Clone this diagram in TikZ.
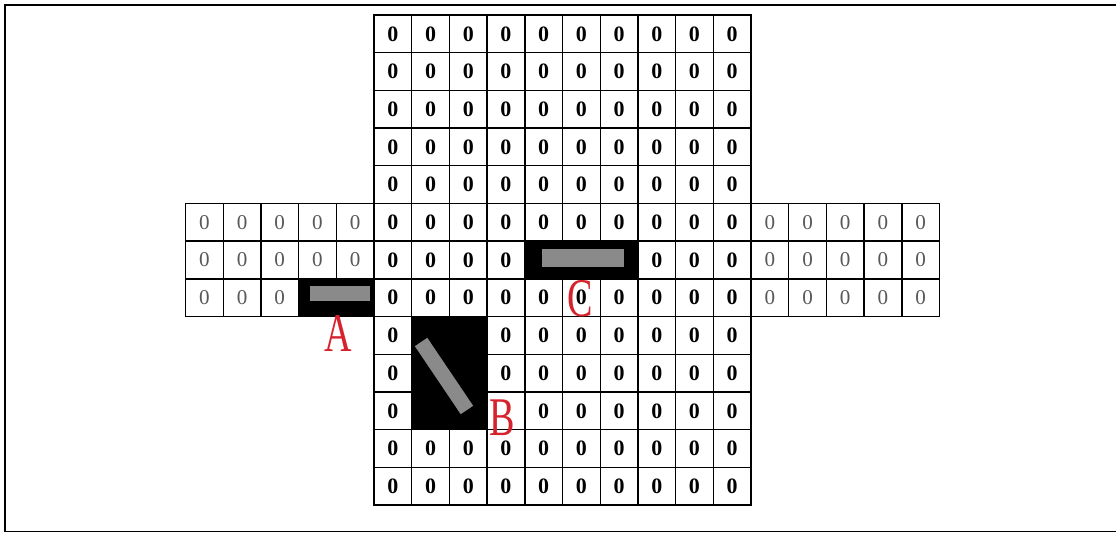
\documentclass[tikz,border=0pt]{standalone}
\usepackage{fontspec}
\setmainfont{Liberation Serif}
\definecolor{labelred}{RGB}{214,34,44}
\definecolor{bargray}{RGB}{138,138,138}
\newcommand{\narrowtxt}[1]{\scalebox{0.7}[1]{#1}}

\begin{document}
\begin{tikzpicture}[x=1cm,y=1cm]
\tikzset{
  cell/.style={rectangle,draw=black,line width=0.8pt,minimum size=7.54mm,inner sep=0pt,font=\fontsize{12.5}{12.5}\selectfont\bfseries},
  wingcell/.style={cell,font=\fontsize{12}{12}\selectfont,text=black!65},
  block/.style={fill=black},
  bar/.style={rectangle,fill=bargray,inner sep=0pt},
  marker/.style={text=labelred,font=\fontsize{31}{31}\selectfont,inner sep=0pt}
}
\useasboundingbox (0,0) rectangle (22.32,10.68);
\draw[line width=1.1pt] (0.10,0.05) rectangle (22.45,10.58);
% middle column of cells
\foreach \r in {0,...,12}
  \foreach \c in {0,...,9}
    \node[cell] (n_\r_\c) at ({7.48+(\c+0.5)*0.754},{10.38-(\r+0.5)*0.754}) {\ifnum\r\c=103 \else 0\fi};
% side arms
\foreach \r in {5,6,7}
  \foreach \c in {0,...,4} {
    \node[wingcell] (wl_\r_\c) at ({7.48+(\c-4.5)*0.754},{10.38-(\r+0.5)*0.754}) {0};
    \node[wingcell] (wr_\r_\c) at ({7.48+(\c+10.5)*0.754},{10.38-(\r+0.5)*0.754}) {0};
  }
% blocked cells
\fill[block] (wl_7_3.north west) rectangle (wl_7_4.south east);
\fill[block] (n_6_4.north west) rectangle (n_6_6.south east);
\fill[block] (n_8_1.north west) rectangle (n_10_2.south east);
\node[bar,minimum width=1.20cm,minimum height=0.30cm] (barA) at (6.80,4.81) {};
\node[bar,minimum width=1.64cm,minimum height=0.36cm] (barC) at (11.66,5.52) {};
\node[bar,minimum width=1.64cm,minimum height=0.30cm,rotate=-56] (barB) at (8.88,3.16) {};
% labels
\node[marker] (lblA) at (6.76,4.00) {\narrowtxt{A}};
\node[marker] (lblB) at (10.04,2.32) {\narrowtxt{B}};
\node[marker] (lblC) at (11.60,4.70) {\narrowtxt{C}};
\end{tikzpicture}
\end{document}
